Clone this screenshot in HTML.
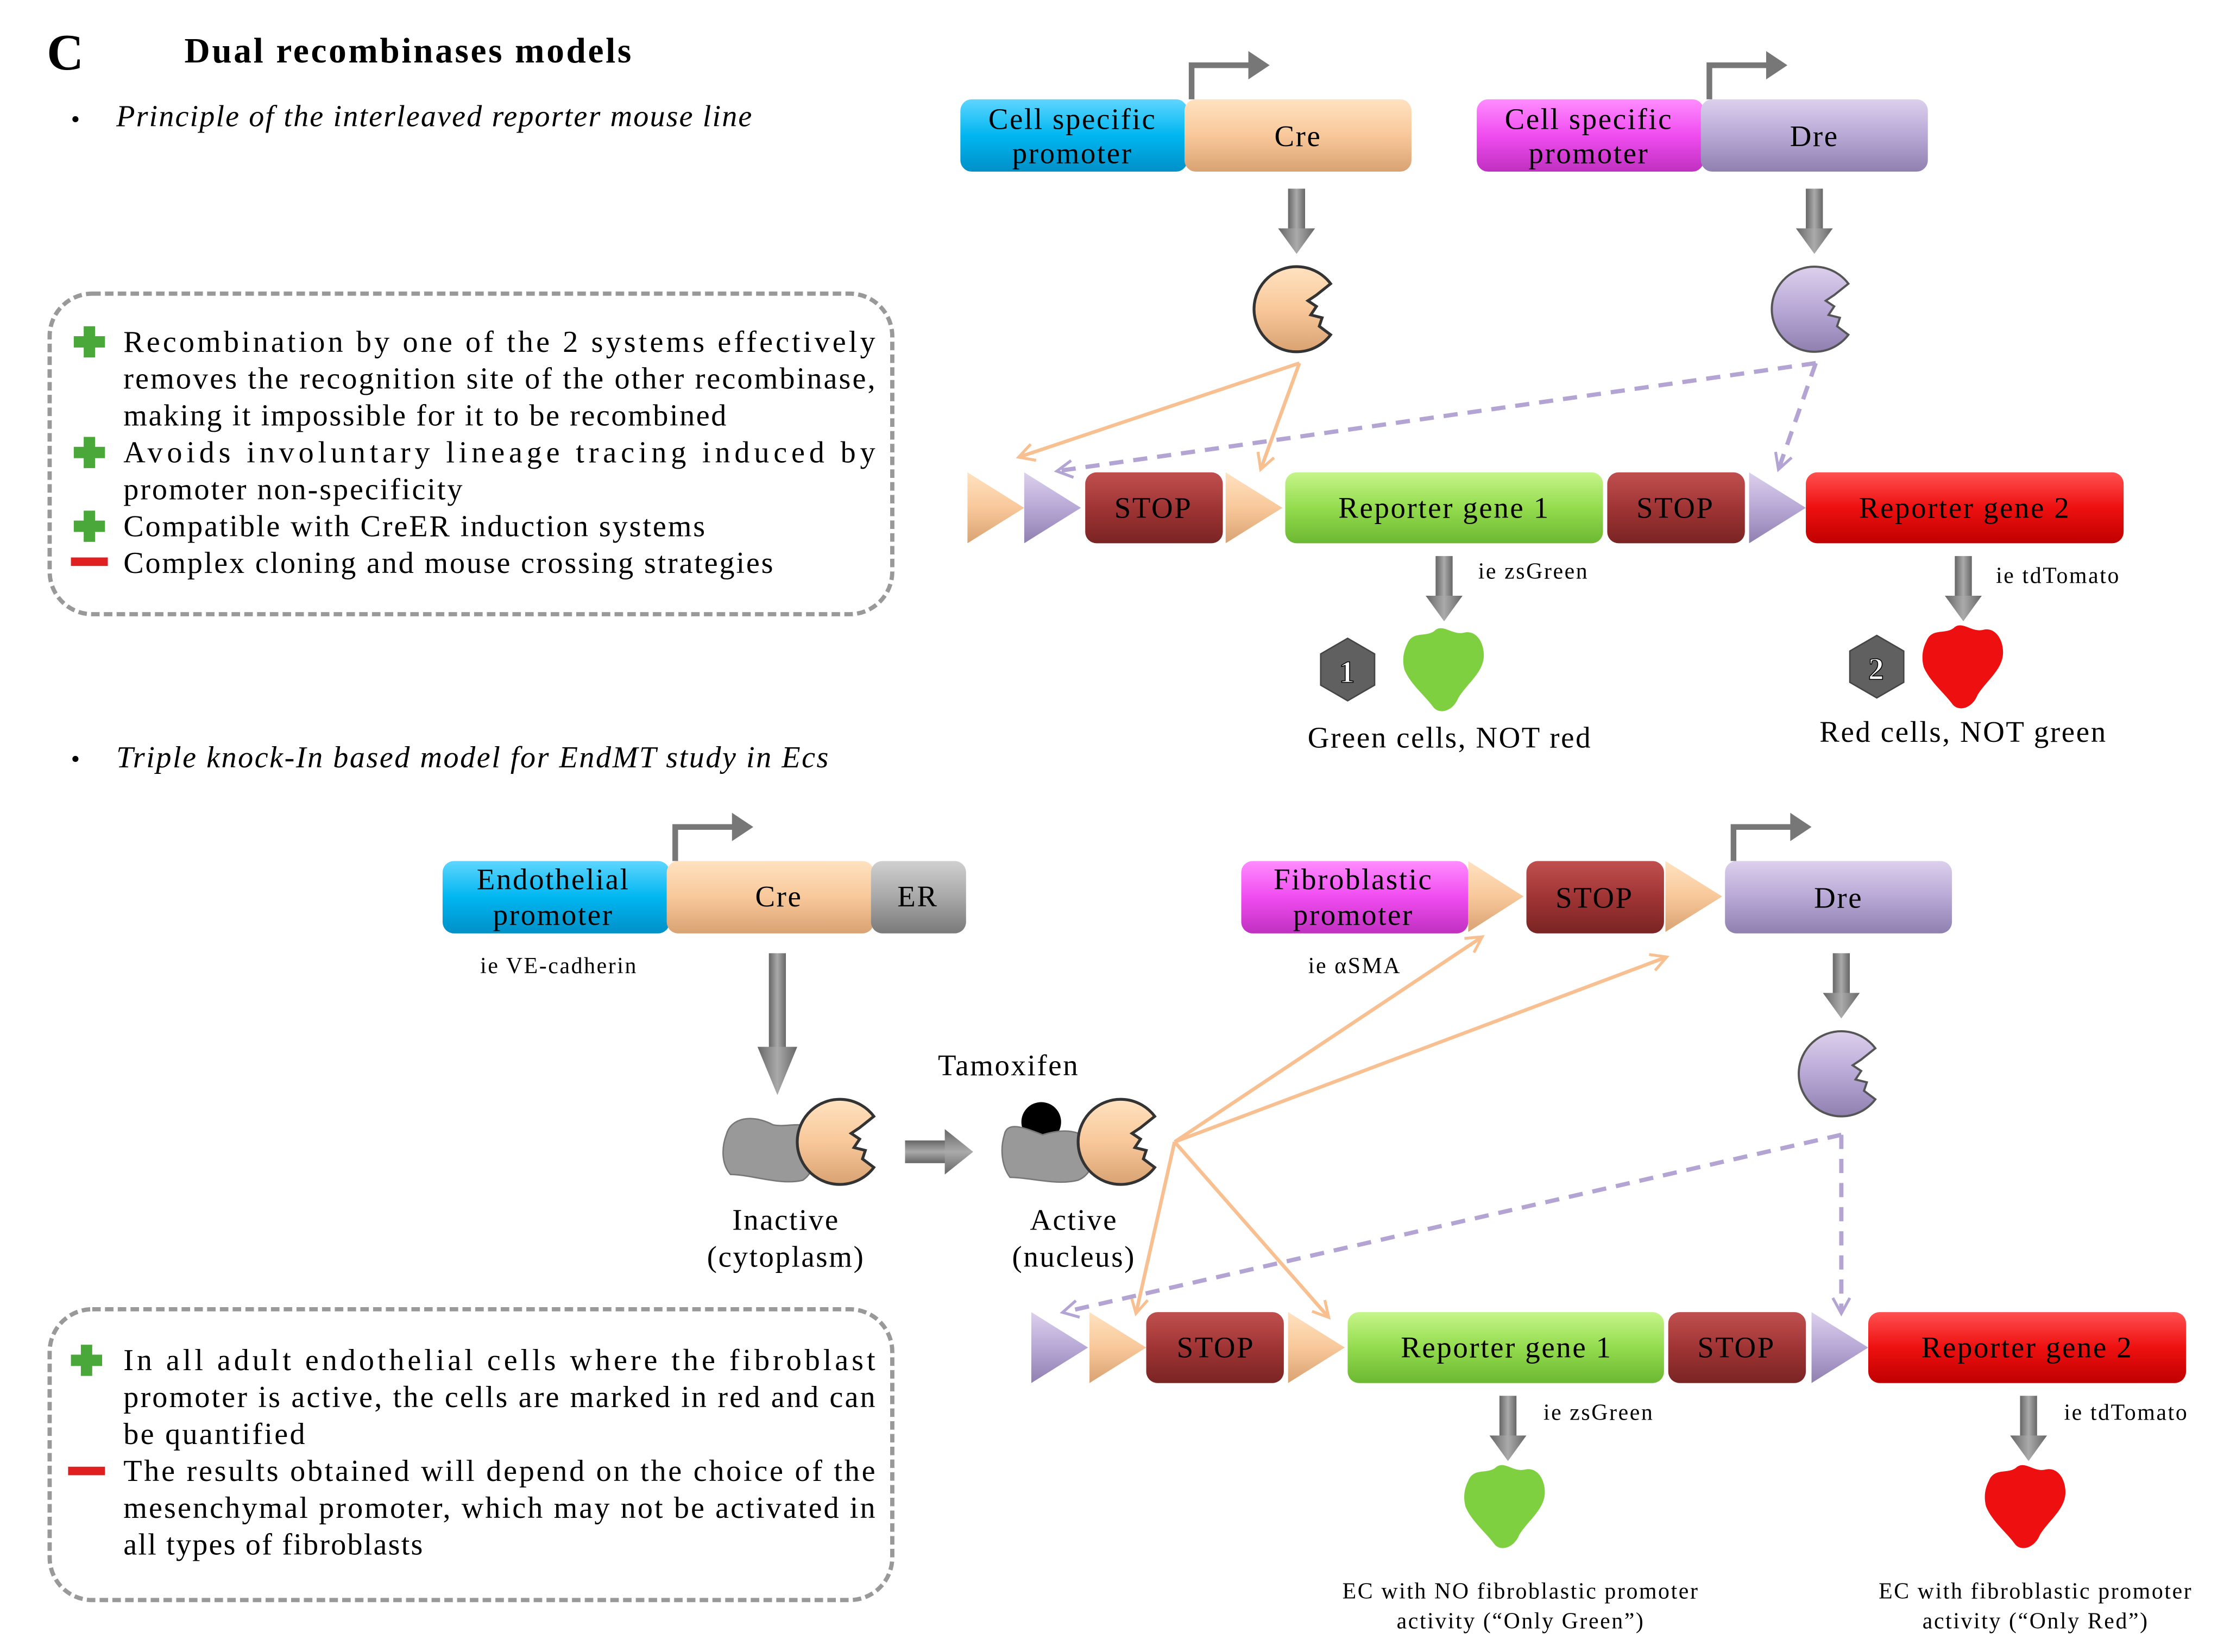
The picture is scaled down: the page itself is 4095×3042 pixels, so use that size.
<!DOCTYPE html>
<html><head><meta charset="utf-8"><style>
html,body{margin:0;padding:0;background:#fff;}
#wrap{width:4095px;height:3042px;overflow:hidden;position:relative;}
#in{width:1570px;height:1166px;transform:scale(2.612);transform-origin:0 0;position:absolute;left:0;top:0;font-family:"Liberation Serif",serif;color:#111;}
svg text{letter-spacing:1px;}
svg text.t{letter-spacing:0;}
</style></head><body><div id="wrap"><div id="in">
<svg width="1570" height="1166" viewBox="0 0 1570 1166" style="position:absolute;left:0;top:0" font-family="Liberation Serif, serif">
<defs>
<linearGradient id="gb" x1="0" y1="0" x2="0" y2="1"><stop offset="0" stop-color="#5fd6ff"/><stop offset=".5" stop-color="#00b6f0"/><stop offset="1" stop-color="#0090c8"/></linearGradient>
<linearGradient id="go" x1="0" y1="0" x2="0" y2="1"><stop offset="0" stop-color="#ffe2c0"/><stop offset=".5" stop-color="#f8c89a"/><stop offset="1" stop-color="#d9a272"/></linearGradient>
<linearGradient id="gm" x1="0" y1="0" x2="0" y2="1"><stop offset="0" stop-color="#ff8cff"/><stop offset=".5" stop-color="#f04cf0"/><stop offset="1" stop-color="#c030c0"/></linearGradient>
<linearGradient id="gl" x1="0" y1="0" x2="0" y2="1"><stop offset="0" stop-color="#dcd0ec"/><stop offset=".5" stop-color="#b8a8d6"/><stop offset="1" stop-color="#8f80b0"/></linearGradient>
<linearGradient id="gs" x1="0" y1="0" x2="0" y2="1"><stop offset="0" stop-color="#c05050"/><stop offset=".5" stop-color="#a03434"/><stop offset="1" stop-color="#7a2424"/></linearGradient>
<linearGradient id="gg" x1="0" y1="0" x2="0" y2="1"><stop offset="0" stop-color="#c6f58a"/><stop offset=".5" stop-color="#94dc4e"/><stop offset="1" stop-color="#6cb832"/></linearGradient>
<linearGradient id="gr" x1="0" y1="0" x2="0" y2="1"><stop offset="0" stop-color="#ff5050"/><stop offset=".5" stop-color="#ee1010"/><stop offset="1" stop-color="#c00000"/></linearGradient>
<linearGradient id="ge" x1="0" y1="0" x2="0" y2="1"><stop offset="0" stop-color="#d0d0d0"/><stop offset=".5" stop-color="#a8a8a8"/><stop offset="1" stop-color="#7a7a7a"/></linearGradient>
<linearGradient id="ga" x1="0" y1="0" x2="1" y2="0"><stop offset="0" stop-color="#666"/><stop offset=".5" stop-color="#aaa"/><stop offset="1" stop-color="#666"/></linearGradient>
<linearGradient id="gh" x1="0" y1="0" x2="0" y2="1"><stop offset="0" stop-color="#666"/><stop offset=".5" stop-color="#aaa"/><stop offset="1" stop-color="#666"/></linearGradient>
<marker id="mo" markerWidth="14" markerHeight="14" refX="11" refY="7" orient="auto" markerUnits="userSpaceOnUse"><path d="M1,1 L12,7 L1,13" fill="none" stroke="#f8c090" stroke-width="2"/></marker>
<marker id="mp" markerWidth="14" markerHeight="14" refX="11" refY="7" orient="auto" markerUnits="userSpaceOnUse"><path d="M1,1 L12,7 L1,13" fill="none" stroke="#b4a4d4" stroke-width="2"/></marker>
<g id="dn"><rect x="-6" y="0" width="12" height="30" fill="url(#ga)"/><path d="M-13,28 L13,28 L0,46 Z" fill="url(#ga)"/></g>
<g id="pa"><path d="M0,0 L0,-24 L44,-24" fill="none" stroke="#777" stroke-width="4"/><path d="M40,-34 L55,-24 L40,-14 Z" fill="#777"/></g>
<g id="pac"><path d="M24,-18 A30,30 0 1 0 24,18 L16,12 L18,6 L10,4 L14,-2 L8,-6 L14,-10 Z" fill="url(#go)" stroke="#333" stroke-width="2"/></g>
<g id="pacl"><path d="M24,-18 A30,30 0 1 0 24,18 L16,12 L18,6 L10,4 L14,-2 L8,-6 L14,-10 Z" fill="url(#gl)" stroke="#555" stroke-width="1.5"/></g>
<g id="gblob"><path d="M-26,-18 C-22,-28 -12,-22 -6,-28 C0,-32 6,-24 14,-26 C22,-28 28,-20 28,-10 C28,2 16,10 10,20 C6,30 -4,32 -8,26 C-14,18 -24,10 -28,0 C-30,-8 -28,-14 -26,-18 Z"/></g>
<g id="hex"><path d="M0,-22 L19,-11 L19,11 L0,22 L-19,11 L-19,-11 Z" fill="#606060" stroke="#444"/></g>
</defs>
<text x="33" y="49" font-size="36" font-weight="bold">C</text>
<text class="t" x="130" y="44" font-size="25" font-weight="bold" textLength="315" lengthAdjust="spacing">Dual recombinases models</text>
<text x="50" y="90" font-size="18">•</text>
<text class="t" x="82" y="89" font-size="21.5" font-style="italic" textLength="448" lengthAdjust="spacing">Principle of the interleaved reporter mouse line</text>
<text x="50" y="541" font-size="18">•</text>
<text class="t" x="82" y="541" font-size="21.5" font-style="italic" textLength="502" lengthAdjust="spacing">Triple knock-In based model for EndMT study in Ecs</text>

<rect x="35" y="207" width="594" height="226" rx="30" fill="#fff" stroke="#999" stroke-width="3" stroke-dasharray="6,3"/>
<rect x="35" y="923" width="594" height="205" rx="30" fill="#fff" stroke="#999" stroke-width="3" stroke-dasharray="6,3"/>
<g fill="#4aa83a"><rect x="59" y="230" width="8" height="22"/><rect x="52" y="237" width="22" height="8"/>
<rect x="59" y="308" width="8" height="22"/><rect x="52" y="315" width="22" height="8"/>
<rect x="59" y="360" width="8" height="22"/><rect x="52" y="367" width="22" height="8"/>
<rect x="57" y="948" width="8" height="22"/><rect x="50" y="955" width="22" height="8"/></g>
<rect x="50" y="393" width="26" height="6" fill="#e02020"/>
<rect x="48" y="1034" width="26" height="6" fill="#e02020"/>

<g font-size="21.5">
<text class="t" x="87" y="248" textLength="530" lengthAdjust="spacing">Recombination by one of the 2 systems effectively</text>
<text class="t" x="87" y="274" textLength="530" lengthAdjust="spacing">removes the recognition site of the other recombinase,</text>
<text class="t" x="87" y="300" textLength="425" lengthAdjust="spacing">making it impossible for it to be recombined</text>
<text class="t" x="87" y="326" textLength="530" lengthAdjust="spacing">Avoids involuntary lineage tracing induced by</text>
<text class="t" x="87" y="352" textLength="239" lengthAdjust="spacing">promoter non-specificity</text>
<text class="t" x="87" y="378" textLength="410" lengthAdjust="spacing">Compatible with CreER induction systems</text>
<text class="t" x="87" y="404" textLength="458" lengthAdjust="spacing">Complex cloning and mouse crossing strategies</text>
<text class="t" x="87" y="966" textLength="530" lengthAdjust="spacing">In all adult endothelial cells where the fibroblast</text>
<text class="t" x="87" y="992" textLength="530" lengthAdjust="spacing">promoter is active, the cells are marked in red and can</text>
<text class="t" x="87" y="1018" textLength="128" lengthAdjust="spacing">be quantified</text>
<text class="t" x="87" y="1044" textLength="530" lengthAdjust="spacing">The results obtained will depend on the choice of the</text>
<text class="t" x="87" y="1070" textLength="530" lengthAdjust="spacing">mesenchymal promoter, which may not be activated in</text>
<text class="t" x="87" y="1096" textLength="211" lengthAdjust="spacing">all types of fibroblasts</text>
</g>

<use href="#pa" x="840" y="70"/>
<rect x="677" y="70" width="160" height="51" rx="8" fill="url(#gb)"/>
<rect x="835" y="70" width="160" height="51" rx="8" fill="url(#go)"/>
<text x="756" y="91" font-size="21" text-anchor="middle">Cell specific</text><text x="756" y="115" font-size="21" text-anchor="middle">promoter</text>
<text x="915" y="103" font-size="21" text-anchor="middle">Cre</text>
<use href="#pa" x="1205" y="70"/>
<rect x="1041" y="70" width="160" height="51" rx="8" fill="url(#gm)"/>
<rect x="1199" y="70" width="160" height="51" rx="8" fill="url(#gl)"/>
<text x="1120" y="91" font-size="21" text-anchor="middle">Cell specific</text><text x="1120" y="115" font-size="21" text-anchor="middle">promoter</text>
<text x="1279" y="103" font-size="21" text-anchor="middle">Dre</text>
<use href="#dn" x="914" y="133"/><use href="#dn" x="1279" y="133"/>
<use href="#pac" x="914" y="218"/><use href="#pacl" x="1279" y="218"/>
<g stroke="#f8c090" stroke-width="2.5" fill="none"><line x1="916" y1="256" x2="719" y2="322" marker-end="url(#mo)"/><line x1="916" y1="256" x2="889" y2="330" marker-end="url(#mo)"/></g>
<g stroke="#b4a4d4" stroke-width="3" fill="none" stroke-dasharray="10,7"><line x1="1280" y1="256" x2="746" y2="332" marker-end="url(#mp)"/><line x1="1280" y1="256" x2="1254" y2="330" marker-end="url(#mp)"/></g>
<path d="M682,333 L722,358 L682,383 Z" fill="url(#go)"/>
<path d="M722,333 L762,358 L722,383 Z" fill="url(#gl)"/>
<rect x="765" y="333" width="97" height="50" rx="8" fill="url(#gs)"/><text x="813" y="365" font-size="21" text-anchor="middle">STOP</text>
<path d="M864,333 L904,358 L864,383 Z" fill="url(#go)"/>
<rect x="906" y="333" width="224" height="50" rx="8" fill="url(#gg)"/><text x="1018" y="365" font-size="21" text-anchor="middle">Reporter gene 1</text>
<rect x="1133" y="333" width="97" height="50" rx="8" fill="url(#gs)"/><text x="1181" y="365" font-size="21" text-anchor="middle">STOP</text>
<path d="M1233,333 L1273,358 L1233,383 Z" fill="url(#gl)"/>
<rect x="1273" y="333" width="224" height="50" rx="8" fill="url(#gr)"/><text x="1385" y="365" font-size="21" text-anchor="middle">Reporter gene 2</text>
<use href="#dn" x="1018" y="392"/><use href="#dn" x="1384" y="392"/>
<text x="1042" y="408" font-size="16">ie  zsGreen</text>
<text x="1407" y="411" font-size="16">ie  tdTomato</text>
<use href="#hex" x="950" y="472"/><text x="950" y="481" font-size="22" font-weight="bold" fill="#fff" text-anchor="middle" stroke="#000" stroke-width=".6">1</text>
<use href="#gblob" x="1018" y="472" fill="#7ed040"/>
<use href="#hex" x="1323" y="470"/><text x="1323" y="479" font-size="22" font-weight="bold" fill="#fff" text-anchor="middle" stroke="#000" stroke-width=".6">2</text>
<use href="#gblob" x="1384" y="470" fill="#ee1010"/>
<text x="1022" y="527" font-size="21" text-anchor="middle">Green cells, NOT red</text>
<text x="1384" y="523" font-size="21" text-anchor="middle">Red cells, NOT green</text>

<use href="#pa" x="476" y="607"/>
<rect x="312" y="607" width="160" height="51" rx="8" fill="url(#gb)"/>
<rect x="470" y="607" width="146" height="51" rx="8" fill="url(#go)"/>
<rect x="614" y="607" width="67" height="51" rx="8" fill="url(#ge)"/>
<text x="390" y="627" font-size="21" text-anchor="middle">Endothelial</text><text x="390" y="652" font-size="21" text-anchor="middle">promoter</text>
<text x="549" y="639" font-size="21" text-anchor="middle">Cre</text><text x="647" y="639" font-size="21" text-anchor="middle">ER</text>
<text x="394" y="686" font-size="16" text-anchor="middle">ie VE-cadherin</text>
<rect x="875" y="607" width="160" height="51" rx="8" fill="url(#gm)"/>
<text x="954" y="627" font-size="21" text-anchor="middle">Fibroblastic</text><text x="954" y="652" font-size="21" text-anchor="middle">promoter</text>
<path d="M1035,607 L1074,632 L1035,657 Z" fill="url(#go)"/>
<rect x="1076" y="607" width="97" height="51" rx="8" fill="url(#gs)"/><text x="1124" y="640" font-size="21" text-anchor="middle">STOP</text>
<path d="M1174,607 L1214,632 L1174,657 Z" fill="url(#go)"/>
<use href="#pa" x="1222" y="607"/>
<rect x="1216" y="607" width="160" height="51" rx="8" fill="url(#gl)"/><text x="1296" y="640" font-size="21" text-anchor="middle">Dre</text>
<text x="955" y="686" font-size="16" text-anchor="middle">ie αSMA</text>
<rect x="542" y="672" width="12" height="68" fill="url(#ga)"/><path d="M534,738 L562,738 L548,772 Z" fill="url(#ga)"/>
<use href="#dn" x="1298" y="672"/>
<use href="#pacl" x="1298" y="757"/>
<path d="M512,800 C515,788 530,785 545,793 C555,795 565,790 572,796 C578,808 576,825 566,832 C550,836 530,828 515,828 C508,820 509,808 512,800 Z" fill="#999" stroke="#777"/>
<use href="#pac" x="592" y="805"/>
<rect x="638" y="804" width="30" height="16" fill="url(#gh)"/><path d="M666,796 L686,812 L666,828 Z" fill="url(#gh)"/>
<ellipse cx="734" cy="791" rx="14" ry="14" fill="#000"/>
<path d="M708,800 C710,790 722,795 735,800 C748,796 760,796 768,804 C774,815 770,828 760,832 C745,836 726,830 712,830 C706,822 705,810 708,800 Z" fill="#999" stroke="#777"/>
<use href="#pac" x="790" y="805"/>
<text x="711" y="758" font-size="21" text-anchor="middle">Tamoxifen</text>
<text x="554" y="867" font-size="21" text-anchor="middle">Inactive</text><text x="554" y="893" font-size="21" text-anchor="middle">(cytoplasm)</text>
<text x="757" y="867" font-size="21" text-anchor="middle">Active</text><text x="757" y="893" font-size="21" text-anchor="middle">(nucleus)</text>
<g stroke="#f8c090" stroke-width="2.5" fill="none">
<line x1="828" y1="805" x2="1044" y2="661" marker-end="url(#mo)"/>
<line x1="828" y1="805" x2="1174" y2="675" marker-end="url(#mo)"/>
<line x1="828" y1="805" x2="801" y2="925" marker-end="url(#mo)"/>
<line x1="828" y1="805" x2="936" y2="928" marker-end="url(#mo)"/></g>
<g stroke="#b4a4d4" stroke-width="3" fill="none" stroke-dasharray="10,7">
<line x1="1298" y1="800" x2="750" y2="925" marker-end="url(#mp)"/>
<line x1="1298" y1="800" x2="1298" y2="925" marker-end="url(#mp)"/></g>
<path d="M727,925 L767,950 L727,975 Z" fill="url(#gl)"/>
<path d="M768,925 L808,950 L768,975 Z" fill="url(#go)"/>
<rect x="808" y="925" width="97" height="50" rx="8" fill="url(#gs)"/><text x="857" y="957" font-size="21" text-anchor="middle">STOP</text>
<path d="M908,925 L948,950 L908,975 Z" fill="url(#go)"/>
<rect x="950" y="925" width="223" height="50" rx="8" fill="url(#gg)"/><text x="1062" y="957" font-size="21" text-anchor="middle">Reporter gene 1</text>
<rect x="1176" y="925" width="97" height="50" rx="8" fill="url(#gs)"/><text x="1224" y="957" font-size="21" text-anchor="middle">STOP</text>
<path d="M1277,925 L1317,950 L1277,975 Z" fill="url(#gl)"/>
<rect x="1317" y="925" width="224" height="50" rx="8" fill="url(#gr)"/><text x="1429" y="957" font-size="21" text-anchor="middle">Reporter gene 2</text>
<use href="#dn" x="1063" y="984"/><use href="#dn" x="1430" y="984"/>
<text x="1088" y="1001" font-size="16">ie  zsGreen</text>
<text x="1455" y="1001" font-size="16">ie  tdTomato</text>
<use href="#gblob" x="1061" y="1062" fill="#7ed040"/>
<use href="#gblob" x="1428" y="1062" fill="#ee1010"/>
<text x="1072" y="1127" font-size="16" text-anchor="middle">EC with NO fibroblastic promoter</text>
<text x="1072" y="1148" font-size="16" text-anchor="middle">activity (“Only Green”)</text>
<text x="1435" y="1127" font-size="16" text-anchor="middle">EC with fibroblastic promoter</text>
<text x="1435" y="1148" font-size="16" text-anchor="middle">activity (“Only Red”)</text>
</svg>
</div></div></body></html>
